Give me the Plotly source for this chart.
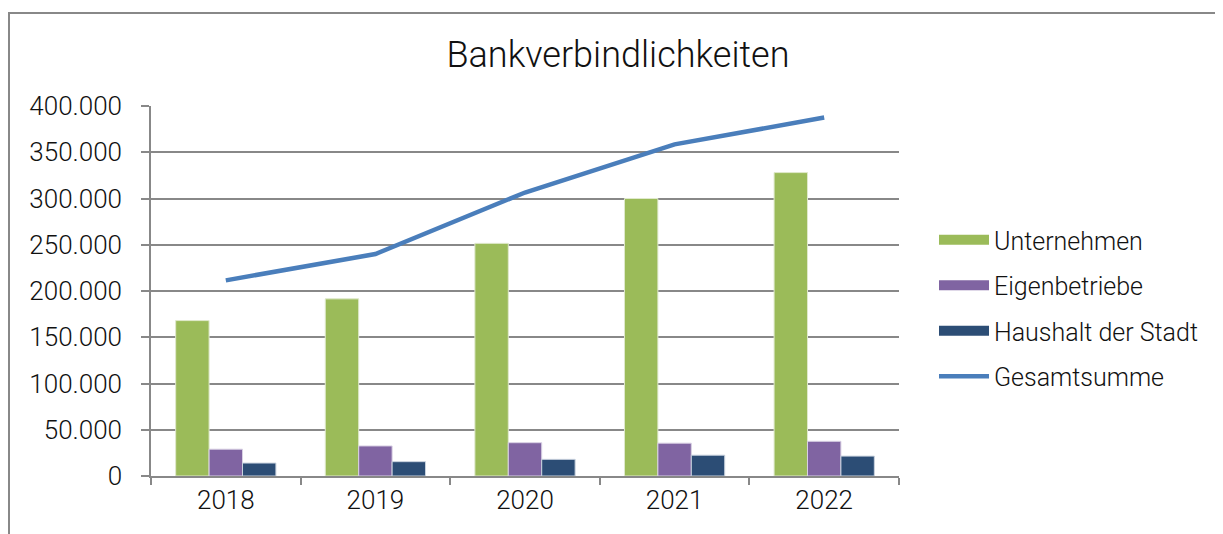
import plotly.graph_objects as go

jahre = ["2018", "2019", "2020", "2021", "2022"]
unternehmen = [168000, 191500, 251500, 300000, 328000]
eigenbetriebe = [29000, 32500, 36000, 35500, 37500]
haushalt = [14000, 15500, 18000, 22500, 21500]
gesamtsumme = [211500, 240000, 306500, 358500, 387500]

FONT = "Roboto"
GRID = "#888888"
farben = {"Unternehmen": "#9BBB59", "Eigenbetriebe": "#8064A2",
          "Haushalt der Stadt": "#2C4D75"}

fig = go.Figure()
for name, werte, rand in [("Unternehmen", unternehmen, "#dfe9cc"),
                          ("Eigenbetriebe", eigenbetriebe, "#d9d1e4"),
                          ("Haushalt der Stadt", haushalt, "#c9d2de")]:
    fig.add_trace(go.Bar(x=jahre, y=werte, name=name, showlegend=False,
                         marker=dict(color=farben[name], line=dict(color=rand, width=1))))

# legend entries with wide colour blocks like the original
for i, name in enumerate(farben):
    fig.add_trace(go.Scatter(x=[None], y=[None], name=name, mode="lines",
                             legendgroup=str(i), line=dict(color=farben[name], width=14)))

fig.add_trace(go.Scatter(x=jahre, y=gesamtsumme, name="Gesamtsumme", legendgroup="3",
                         mode="lines", line=dict(color="#4A7EBB", width=4.5)))

fig.update_layout(
    width=1223, height=534,
    margin=dict(l=143, r=332, t=98, b=66),
    paper_bgcolor="white", plot_bgcolor="white",
    font=dict(family=FONT, size=24, color="#111111", weight=300),
    separators=",.",
    barmode="group", bargap=0.33, bargroupgap=0,
    title=dict(text="Bankverbindlichkeiten", font=dict(size=36, color="#111111", weight=300),
               x=0.6243, xref="paper", xanchor="center",
               y=1 - 46 / 534, yref="container", yanchor="middle"),
    legend=dict(x=1.0468, xanchor="left", y=0.454, yanchor="middle",
                font=dict(size=25, weight=300), itemwidth=50, tracegroupgap=10,
                bgcolor="rgba(0,0,0,0)"),
    showlegend=True,
)

fig.update_xaxes(showline=True, linecolor=GRID, linewidth=1.5,
                 ticks="outside", tickson="boundaries", ticklen=7, tickcolor=GRID,
                 tickwidth=1.5, showgrid=False, tickfont=dict(size=26, weight=300))
fig.update_yaxes(range=[0, 400000], dtick=50000, tickformat=",.0f",
                 showline=True, linecolor=GRID, linewidth=1.5,
                 ticks="outside", ticklen=8, tickcolor=GRID, tickwidth=1.5,
                 showgrid=True, gridcolor=GRID, gridwidth=1.5,
                 zeroline=False, tickfont=dict(size=26, weight=300), ticklabelstandoff=14)

# outer frame (only top and left edge visible in the crop)
fig.add_shape(type="line", xref="paper", yref="paper",
              x0=(0 - 143) / 748, x1=(1230 - 143) / 748,
              y0=(468 - 5) / 370, y1=(468 - 5) / 370,
              line=dict(color="#888888", width=2))
fig.add_shape(type="line", xref="paper", yref="paper",
              x0=(1 - 143) / 748, x1=(1 - 143) / 748,
              y0=(468 - 5) / 370, y1=(468 - 540) / 370,
              line=dict(color="#888888", width=2))

fig.write_html("out.html")
